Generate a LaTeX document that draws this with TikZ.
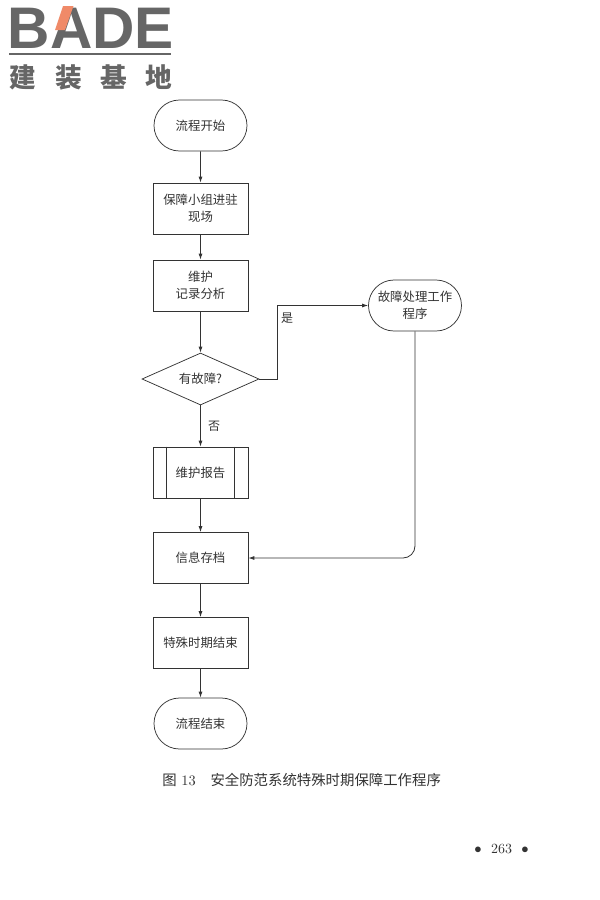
\documentclass[tikz,border=0pt]{standalone}
\usepackage{fontspec}
\usepackage{xcolor}
\usetikzlibrary{shapes.geometric,shapes.misc,arrows.meta}
\newfontfamily\cjk{Noto Sans CJK SC}
\newfontfamily\logocjk[LetterSpace=70]{Noto Sans CJK SC}
\newfontfamily\logolatin{Liberation Sans}
\definecolor{logogray}{HTML}{666666}
\definecolor{logoorange}{HTML}{F08A68}
\definecolor{inkgray}{HTML}{333333}
\tikzset{
	stepbox/.style={draw=inkgray,line width=0.55pt,rectangle,minimum width=71.25pt,minimum height=38.25pt,inner sep=0.75pt,align=center,font=\cjk\fontsize{9.3}{13}\selectfont,text=inkgray},
	roundbox/.style={stepbox,rounded rectangle,rounded rectangle arc length=180},
	askbox/.style={stepbox,diamond,aspect=2.25,minimum width=87.75pt,minimum height=39pt,inner sep=0pt},
	flow/.style={draw=inkgray,line width=0.6pt,-{Latex[length=4.5pt,width=3pt]}},
	plain/.style={inner sep=0.75pt,text=inkgray},
}
\begin{document}
\begin{tikzpicture}[x=0.75pt,y=0.75pt,yscale=-1,xscale=1]
	\useasboundingbox (0,0) rectangle (600,900);
	\fill[white] (0,0) rectangle (600,900);

	% Logo
	\node (logoword) [anchor=west,inner sep=0pt,text=logogray,font=\logolatin\bfseries\fontsize{44}{44}\selectfont] at (7.5,28) {BADE};
	\fill[logoorange] (63,6) -- (73.5,6) -- (65,30) -- (55,30) -- cycle;
	\draw[logogray,line width=1.6pt] (9,54) -- (171,54);
	\node (logocn) [anchor=west,inner sep=0pt,text=logogray,font=\logocjk\bfseries\fontsize{20}{20}\selectfont] at (9.5,77.5) {建装基地};

	% Flow nodes
	\node (start) [roundbox] at (200.5,125.5) {流程开始};
	\node (team) [stepbox] at (200.5,208.5) {保障小组进驻\\现场};
	\node (record) [stepbox] at (200.5,285.5) {维护\\记录分析};
	\node (ask) [askbox] at (200.5,379) {有故障?};
	\node (fault) [roundbox] at (415,305.5) {故障处理工作\\程序};
	\node (report) [stepbox] at (200.5,472.5) {维护报告};
	\node (archive) [stepbox] at (200.5,558) {信息存档};
	\node (finish) [stepbox] at (200.5,643) {特殊时期结束};
	\node (stop) [roundbox] at (200.5,723.5) {流程结束};

	% Side bars of the report box
	\draw[inkgray,line width=0.55pt] ([xshift=10.5pt]report.north west) -- ([xshift=10.5pt]report.south west);
	\draw[inkgray,line width=0.55pt] ([xshift=-10.5pt]report.north east) -- ([xshift=-10.5pt]report.south east);

	% Connectors
	\coordinate (yesbend) at (277,305.5);
	\draw[flow] (start) -- (team);
	\draw[flow] (team) -- (record);
	\draw[flow] (record) -- (ask);
	\draw[flow] (ask) -- (report);
	\draw[flow] (report) -- (archive);
	\draw[flow] (archive) -- (finish);
	\draw[flow] (finish) -- (stop);
	\draw[flow] (ask.east) -| (yesbend) -- (fault.west);
	\draw[flow,rounded corners=9pt] (fault.south) |- (archive.east);

	% Text Node
	\node (yeslabel) [plain,font=\cjk\fontsize{9}{9}\selectfont] at (287,318) {是};
	\node (nolabel) [plain,font=\cjk\fontsize{9}{9}\selectfont] at (214,426) {否};
	\node (caption) [plain,anchor=west,font=\fontsize{10.8}{11}\selectfont] at (161,780) {{\cjk 图} 13\hspace{11pt}{\cjk 安全防范系统特殊时期保障工作程序}};
	\node (pageno) [plain,font=\fontsize{10.5}{11}\selectfont] at (501.5,849) {$\bullet$\ \ 263\ \ $\bullet$};
\end{tikzpicture}
\end{document}
